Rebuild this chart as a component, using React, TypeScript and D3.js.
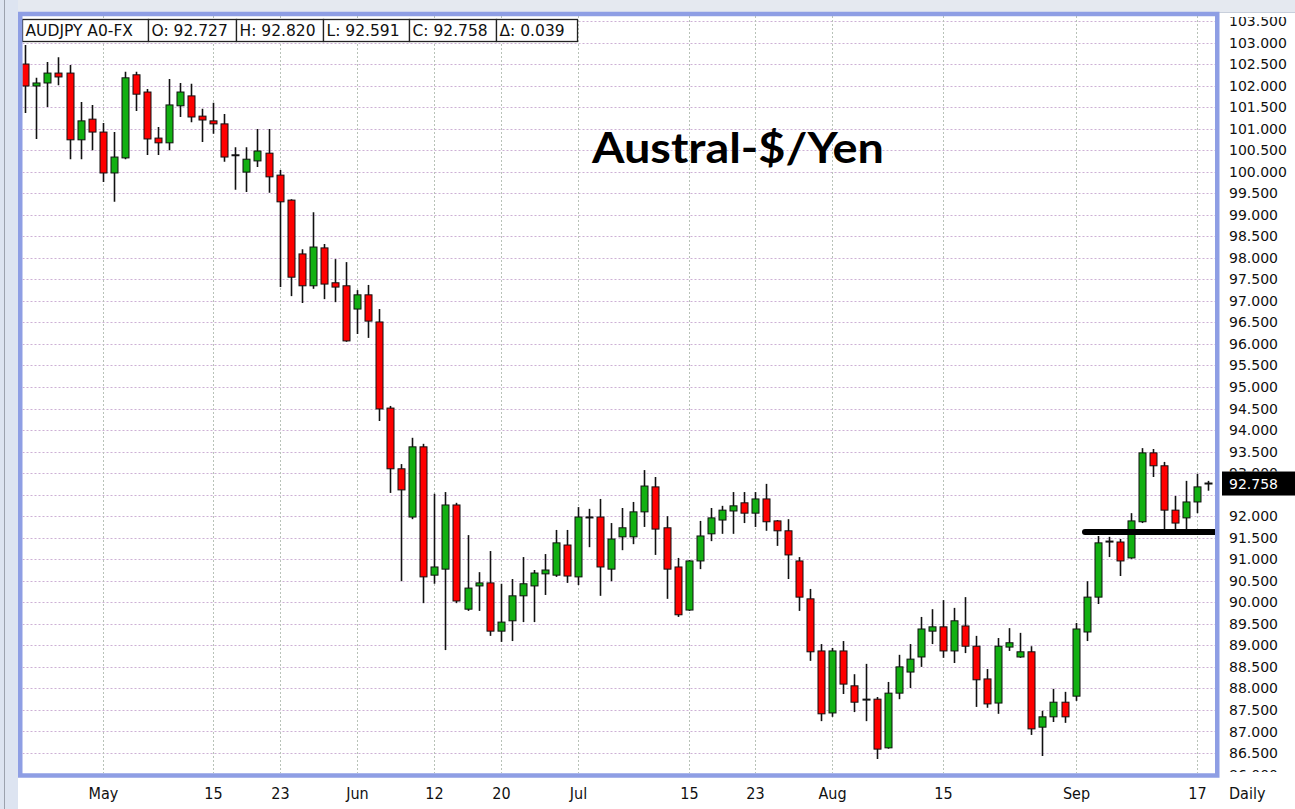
import { scaleLinear, timeDay, timeFormat, range, format } from 'd3'

// trading days (Mon-Fri) shown on the chart
const tradingDays = timeDay
  .range(new Date(2013, 3, 22), new Date(2013, 8, 19))
  .filter((d) => d.getDay() !== 0 && d.getDay() !== 6)
const toKey = timeFormat('%Y-%m-%d')
const dates = tradingDays.map(toKey)

// daily OHLC
const opens = [
  102.5, 101.99, 102.06, 102.29, 102.29, 100.74, 101.22, 100.92, 99.97, 100.32,
  102.25, 101.85, 100.78, 100.67, 101.53, 101.76, 101.29, 101.18, 101.11, 100.4,
  99.99, 100.25, 100.43, 99.92, 99.34, 98.09, 97.35, 98.23, 97.42, 97.35,
  96.81, 97.14, 96.51, 94.51, 93.1, 91.98, 93.61, 90.63, 90.77, 92.26,
  89.84, 90.38, 90.45, 89.33, 89.57, 90.15, 90.38, 90.66, 90.63, 91.33,
  90.59, 91.98, 91.98, 90.77, 91.52, 91.52, 92.1, 92.68, 91.73, 90.82,
  89.82, 90.96, 91.59, 91.91, 92.12, 92.31, 92.07, 92.4, 91.89, 91.66,
  90.96, 90.08, 88.87, 87.43, 88.87, 88.06, 87.76, 87.75, 86.62, 87.89,
  88.38, 88.73, 89.33, 89.43, 88.87, 89.45, 88.98, 88.22, 87.66, 88.96,
  88.73, 88.85, 87.1, 87.34, 87.68, 87.82, 89.31, 90.12, 91.4, 91.4,
  91.03, 91.87, 93.47, 93.17, 92.14, 91.96, 92.33, 92.727,
]
const highs = [
  102.94, 102.18, 102.55, 102.66, 102.48, 101.62, 101.55, 101.13, 100.92, 102.32,
  102.32, 101.92, 101.04, 102.15, 102.06, 102.04, 101.46, 101.6, 101.34, 100.57,
  100.57, 100.99, 100.99, 100.04, 99.36, 98.2, 99.06, 98.32, 97.97, 97.9,
  97.25, 97.37, 96.81, 94.56, 93.21, 93.82, 93.68, 92.52, 92.56, 92.31,
  91.56, 90.7, 91.19, 90.43, 90.54, 91.05, 90.75, 91.12, 91.68, 91.68,
  92.21, 92.17, 92.4, 91.84, 92.19, 92.33, 93.07, 92.91, 92.0, 91.03,
  90.98, 91.89, 92.19, 92.24, 92.56, 92.56, 92.56, 92.75, 91.91, 91.93,
  91.05, 90.31, 89.03, 88.94, 89.1, 88.33, 88.57, 87.8, 88.15, 88.78,
  89.03, 89.66, 89.84, 90.05, 89.87, 90.12, 89.22, 88.45, 89.17, 89.4,
  89.29, 88.98, 87.48, 87.99, 87.92, 89.52, 90.49, 91.54, 91.52, 91.47,
  92.07, 93.58, 93.56, 93.26, 92.47, 92.82, 92.98, 92.82,
]
const lows = [
  101.36, 100.76, 101.5, 102.01, 100.29, 100.29, 100.5, 99.76, 99.3, 100.29,
  101.41, 100.39, 100.39, 100.5, 101.27, 101.15, 100.69, 100.88, 100.23, 99.58,
  99.53, 100.11, 99.51, 97.32, 97.11, 96.95, 97.28, 97.04, 96.97, 96.05,
  96.23, 96.14, 94.21, 92.54, 90.49, 91.93, 89.98, 90.43, 88.89, 89.98,
  89.8, 89.8, 89.22, 89.08, 89.1, 89.54, 89.54, 90.17, 90.59, 90.45,
  90.4, 91.28, 90.15, 90.49, 91.21, 91.35, 91.75, 91.1, 90.08, 89.66,
  89.8, 90.77, 91.42, 91.59, 91.59, 91.84, 91.75, 91.66, 91.31, 90.54,
  89.8, 88.64, 87.24, 87.34, 87.87, 87.45, 87.24, 86.36, 86.6, 87.75,
  88.01, 88.5, 89.03, 88.71, 88.59, 88.82, 87.57, 87.55, 87.41, 88.87,
  88.71, 86.92, 86.43, 87.22, 87.2, 87.71, 89.1, 89.96, 91.05, 90.61,
  91.01, 91.84, 92.91, 91.7, 91.7, 91.7, 92.07, 92.591,
]
const closes = [
  101.99, 102.06, 102.29, 102.2, 100.74, 101.18, 100.92, 99.97, 100.34, 102.18,
  101.8, 100.76, 100.67, 101.55, 101.85, 101.27, 101.2, 101.11, 100.34, 100.38,
  100.29, 100.48, 99.88, 99.3, 97.55, 97.35, 98.25, 97.39, 97.32, 96.07,
  97.14, 96.53, 94.49, 93.1, 92.61, 93.61, 90.59, 90.82, 92.26, 90.03,
  90.33, 90.45, 89.33, 89.54, 90.15, 90.43, 90.68, 90.75, 91.38, 90.61,
  91.98, 91.97, 90.82, 91.47, 91.73, 92.1, 92.7, 91.7, 90.77, 89.71,
  90.96, 91.54, 91.96, 92.14, 92.24, 92.07, 92.4, 91.87, 91.66, 91.1,
  90.12, 88.85, 87.41, 88.87, 88.1, 87.68, 87.74, 86.59, 87.89, 88.5,
  88.68, 89.38, 89.43, 88.87, 89.57, 88.98, 88.2, 87.64, 88.98, 89.06,
  88.85, 87.06, 87.34, 87.68, 87.34, 89.38, 90.12, 91.38, 91.41, 90.96,
  91.89, 93.47, 93.17, 92.14, 91.84, 92.33, 92.68, 92.758,
]

const tickDates = [
  '2013-05-01', '2013-05-15', '2013-05-23', '2013-06-03', '2013-06-12', '2013-06-20', '2013-07-01',
  '2013-07-15', '2013-07-23', '2013-08-01', '2013-08-15', '2013-09-02', '2013-09-17',
]
const tickLabels = ['May', '15', '23', 'Jun', '12', '20', 'Jul', '15', '23', 'Aug', '15', 'Sep', '17']

const headerCells = ['AUDJPY A0-FX', 'O: 92.727', 'H: 92.820', 'L: 92.591', 'C: 92.758', 'Δ: 0.039']
const headerWidths = [126, 88, 87, 86, 87, 81]

const lastPrice = 92.758
const supportLevel = 91.63
const supportStart = 95.85 // bar index where the drawn line begins

const W = 1295
const H = 809
const plot = { left: 22.5, right: 1215, top: 16, bottom: 773 }

const fmt3 = format('.3f')
const UP = '#12b012'
const DOWN = '#ff0000'
const axisFont = "'DejaVu Sans', Verdana, sans-serif"

export default function App() {
  const x = scaleLinear().domain([-0.3, 107.7]).range([22, 1216])
  const y = scaleLinear().domain([86.5, 103]).range([753, 42.5])
  const priceTicks = range(86, 103.51, 0.5)
  const px = (i: number) => Math.round(x(i)) + 0.5
  const boxTop = y(lastPrice) - 12
  // labels hidden by the last-price box are left out; the one just above is cut by it
  const axisTicks = priceTicks.filter((p) => Math.abs(y(p) - y(lastPrice)) > 11.5 || y(p) < y(lastPrice))

  let hx = plot.left
  const cells = headerCells.map((t, k) => {
    const c = { t, x: hx, w: headerWidths[k] }
    hx += headerWidths[k]
    return c
  })

  return (
    <svg width={W} height={H} style={{ position: 'absolute', left: 0, top: 0, background: '#fff' }}>
      <defs>
        <clipPath id="plotClip">
          <rect x={plot.left} y={plot.top} width={plot.right - plot.left} height={plot.bottom - plot.top} />
        </clipPath>
        <clipPath id="axisClip">
          <rect x={plot.right} y={17} width={W - plot.right} height={755} />
        </clipPath>
        <clipPath id="aboveBox">
          <rect x={plot.right} y={0} width={W - plot.right} height={boxTop} />
        </clipPath>
      </defs>

      {/* window chrome */}
      <rect x={0} y={0} width={W} height={13} fill="#e5e9f0" />
      <line x1={0} x2={W} y1={12.5} y2={12.5} stroke="#c8cfdb" />
      <rect x={0} y={0} width={18} height={H} fill="#dde4f1" />
      <line x1={4.5} x2={4.5} y1={0} y2={H} stroke="#9ca2ae" />

      <g clipPath="url(#plotClip)">
        <rect x={plot.left} y={plot.top} width={plot.right - plot.left} height={plot.bottom - plot.top} fill="#fff" />
        {priceTicks.map((p) => (
          <line key={p} x1={plot.left} x2={plot.right} y1={Math.round(y(p)) + 0.5} y2={Math.round(y(p)) + 0.5}
            stroke="#cdb0d5" strokeDasharray="2 2" />
        ))}
        {tickDates.map((d) => {
          const i = dates.indexOf(d)
          return (
            <line key={d} x1={px(i)} x2={px(i)} y1={plot.top} y2={plot.bottom} stroke="#b8c2b8" strokeDasharray="2 2" />
          )
        })}

        {dates.map((d, i) => {
          const o = opens[i], c = closes[i]
          const cx = px(i)
          const top = y(Math.max(o, c))
          const bot = y(Math.min(o, c))
          const doji = bot - top < 2
          return (
            <g key={d}>
              <line x1={cx} x2={cx} y1={y(highs[i])} y2={y(lows[i])} stroke="#111" strokeWidth={1.6} />
              {doji ? (
                <line x1={cx - 4} x2={cx + 4} y1={y(c)} y2={y(c)} stroke="#111" strokeWidth={2} />
              ) : (
                <rect x={cx - 3.5} y={top} width={7} height={bot - top} fill={c >= o ? UP : DOWN}
                  stroke="#111" strokeWidth={1} />
              )}
            </g>
          )
        })}

        <line x1={x(supportStart)} x2={plot.right + 2} y1={y(supportLevel)} y2={y(supportLevel)}
          stroke="#000" strokeWidth={6} strokeLinecap="round" />
      </g>

      {/* header */}
      <g fontFamily={axisFont} fontSize={15.5} fill="#111">
        {cells.map((c) => (
          <g key={c.t}>
            <rect x={c.x} y={19.5} width={c.w} height={22} fill="#fff" stroke="#222" strokeWidth={1.3} />
            <text x={c.x + 3} y={36}>{c.t}</text>
          </g>
        ))}
      </g>

      <text x={592} y={163} fontFamily="Lato, 'Open Sans', sans-serif" fontWeight={700} fontSize={42}
        textLength={292} lengthAdjust="spacingAndGlyphs" fill="#000">
        Austral-$/Yen
      </text>

      {/* frame */}
      <rect x={20.25} y={14} width={1197} height={761.5} fill="none" stroke="#8e9ee4" strokeWidth={4.5} />

      {/* price axis */}
      <g clipPath="url(#axisClip)" fontFamily={axisFont} fontSize={14} fill="#111">
        {axisTicks.map((p) => (
          <text key={p} x={1229} y={y(p)} dy="0.36em"
            clipPath={Math.abs(y(p) - y(lastPrice)) <= 11.5 ? 'url(#aboveBox)' : undefined}>
            {fmt3(p)}
          </text>
        ))}
      </g>
      <rect x={1222} y={boxTop} width={W - 1222} height={24} fill="#000" />
      <text x={1229} y={y(lastPrice)} dy="0.36em" fontFamily={axisFont} fontSize={14} fill="#fff">
        {fmt3(lastPrice)}
      </text>

      {/* date axis */}
      <g fontFamily="'DejaVu Sans Condensed', 'Liberation Sans Narrow', 'DejaVu Sans', sans-serif" fontSize={16}
        fill="#111" textAnchor="middle">
        {tickDates.map((d, k) => (
          <text key={d} x={px(dates.indexOf(d))} y={799}>{tickLabels[k]}</text>
        ))}
        <text x={1229} y={799} textAnchor="start">Daily</text>
      </g>
    </svg>
  )
}
